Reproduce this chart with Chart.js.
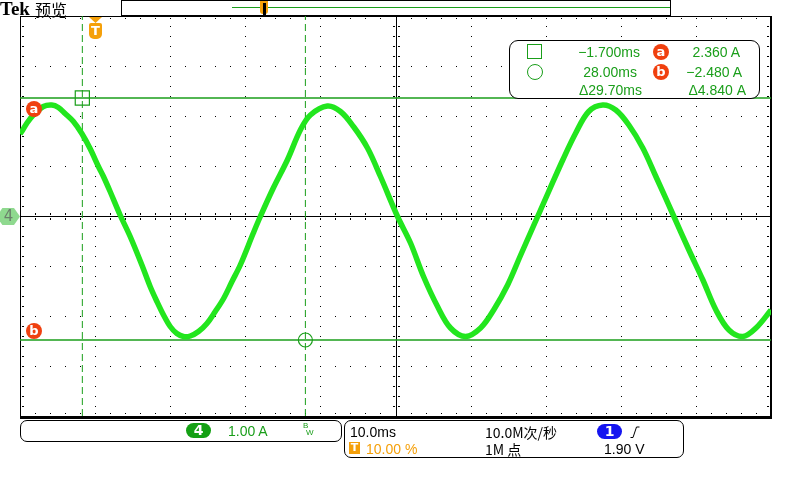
<!DOCTYPE html>
<html>
<head>
<meta charset="utf-8">
<script src="https://cdn.jsdelivr.net/npm/chart.js@4/dist/chart.umd.min.js"></script>
<style>
  html, body { margin: 0; padding: 0; background: #fff; }
  #wrap { position: relative; width: 800px; height: 480px; overflow: hidden;
          font-family: "Liberation Sans", Arial, sans-serif; }
  #scope { position: absolute; left: 0; top: 0; }
  .t { position: absolute; font-size: 14px; line-height: 16px; white-space: nowrap; }
  .g { color: #1a9e1a; }
  .box { position: absolute; border: 1px solid #000; border-radius: 7px; background: #fff; box-sizing: border-box; }
  .badge { position: absolute; width: 16px; height: 16px; border-radius: 50%; background: #f0400f;
           color: #fff; font: bold 13px/15px "DejaVu Sans", sans-serif; text-align: center; }
  .pill { position: absolute; border-radius: 8px; color: #fff; text-align: center;
          font: bold 14px/15px "DejaVu Sans", sans-serif; }
</style>
</head>
<body>
<div id="wrap">
  <canvas id="scope" width="800" height="480"></canvas>

  <!-- header -->
  <div class="t" style="left:0;top:0;font:bold 19px/18px 'Liberation Serif',serif;">Tek</div>
  <div class="t" style="left:35px;top:0;font:16px/18px 'Noto Sans CJK SC',sans-serif;">预览</div>
  <div style="position:absolute;left:121px;top:0;width:550px;height:16px;border:1px solid #000;box-sizing:border-box;background:#fff;"></div>
  <div style="position:absolute;left:232px;top:7px;width:438px;height:1px;background:#1a9e1a;"></div>
  <div style="position:absolute;left:260px;top:1px;width:8px;height:13px;background:#f5a00a;border-radius:0 0 3px 3px;"></div>
  <div style="position:absolute;left:263px;top:3px;width:3px;height:12px;background:#000;"></div>

  <!-- trigger marker T -->
  <div style="position:absolute;left:89px;top:17px;width:13px;height:6px;background:#f5a00a;clip-path:polygon(0 0,100% 0,50% 100%);"></div>
  <div style="position:absolute;left:89px;top:23px;width:13px;height:16px;background:#f5a00a;border-radius:2px 2px 5px 5px;color:#fff;font:bold 13px/16px 'DejaVu Sans',sans-serif;text-align:center;">T</div>

  <!-- channel 4 marker -->
  <div style="position:absolute;left:0;top:208px;width:20px;height:17px;background:#8fd98f;clip-path:polygon(0 20%,12% 0,70% 0,100% 50%,70% 100%,12% 100%,0 80%);color:#6b7f6b;font:15px/17px 'DejaVu Sans',sans-serif;text-align:center;padding-right:3px;box-sizing:border-box;">4</div>

  <!-- cursor badges on screen -->
  <div class="badge" style="left:26px;top:101px;">a</div>
  <div class="badge" style="left:26px;top:323px;">b</div>

  <!-- cursor readout -->
  <div class="box" style="left:509px;top:40px;width:251px;height:59px;border-radius:9px;"></div>
  <div style="position:absolute;left:527px;top:44px;width:13px;height:13px;border:1.5px solid #1a9e1a;"></div>
  <div style="position:absolute;left:527px;top:64px;width:14px;height:14px;border:1.5px solid #1a9e1a;border-radius:50%;"></div>
  <div class="t g" style="right:160px;top:44px;">−1.700ms</div>
  <div class="t g" style="right:163px;top:64px;">28.00ms</div>
  <div class="t g" style="right:158px;top:82px;">Δ29.70ms</div>
  <div class="badge" style="left:653px;top:44px;">a</div>
  <div class="badge" style="left:653px;top:64px;">b</div>
  <div class="t g" style="right:60px;top:44px;">2.360 A</div>
  <div class="t g" style="right:58px;top:64px;">−2.480 A</div>
  <div class="t g" style="right:54px;top:82px;">Δ4.840 A</div>

  <!-- bottom left: channel -->
  <div class="box" style="left:20px;top:420px;width:322px;height:22px;"></div>
  <div class="pill" style="left:186px;top:423px;width:25px;height:15px;background:#14a014;">4</div>
  <div class="t g" style="left:228px;top:423px;">1.00 A</div>
  <div class="t g" style="left:303px;top:422px;font-size:8px;line-height:8px;">B</div>
  <div class="t g" style="left:306px;top:429px;font-size:8px;line-height:8px;">W</div>

  <!-- bottom right: timebase / trigger -->
  <div class="box" style="left:344px;top:420px;width:340px;height:38px;"></div>
  <div class="t" style="left:350px;top:424px;">10.0ms</div>
  <div class="t" style="left:485px;top:424px;font-family:'Noto Sans CJK SC','Liberation Sans',sans-serif;">10.0M次/秒</div>
  <div class="pill" style="left:597px;top:424px;width:25px;height:15px;background:#1515f0;">1</div>
  <svg style="position:absolute;left:630px;top:426px;" width="10" height="12"><polyline points="0.5,11.5 3,11.5 6.5,1 9.5,1" fill="none" stroke="#000" stroke-width="1"/></svg>
  <div style="position:absolute;left:349px;top:442px;width:11px;height:12px;background:#f5a00a;color:#fff;font:bold 11px/12px 'DejaVu Sans',sans-serif;text-align:center;">T</div>
  <div class="t" style="left:366px;top:441px;color:#f5a00a;">10.00 %</div>
  <div class="t" style="left:485px;top:441px;font-family:'Noto Sans CJK SC','Liberation Sans',sans-serif;">1M 点</div>
  <div class="t" style="left:604px;top:441px;">1.90 V</div>
</div>

<script>
// screen: 10 ms/div, 1.00 A/div, trigger at 10% of record
const timeRange = [-10, 90];
const ampRange = [-4, 4];
const timeDivs = 10;
const ampDivs = 8;

// trace (ms, A)
const timeMs = [-10.0, -9.77, -9.11, -8.23, -6.89, -5.77, -4.89, -4.0, -2.89, -1.77,
  -0.67, 0.44, 1.11, 2.0, 3.33, 4.67, 6.23, 7.33, 8.23, 9.11,
  10.0, 10.89, 11.77, 12.67, 13.77, 14.89, 16.0, 17.11, 18.23, 19.33,
  21.07, 22.0, 23.73, 25.6, 27.33, 28.67, 30.93,
  32.67, 34.4, 36.27, 38.0, 40.27, 42.0, 43.73, 45.6, 47.33, 49.33,
  51.33, 53.07, 54.93, 56.67, 58.93, 60.4, 62.27, 64.0, 65.73, 67.6,
  69.33, 71.07, 72.93, 74.67, 77.07, 79.07, 80.93, 82.67, 84.4, 86.27,
  88.0, 90.0];
const currentA = [1.64, 1.69, 1.85, 2.02, 2.19, 2.22, 2.17, 2.05, 1.89, 1.65,
  1.35, 0.99, 0.79, 0.49, 0.02, -0.41, -0.98, -1.41, -1.71, -1.98,
  -2.21, -2.35, -2.41, -2.40, -2.31, -2.15, -1.91, -1.65, -1.31, -0.98,
  -0.34, -0.01, 0.56, 1.12, 1.72, 2.02, 2.20,
  2.09, 1.79, 1.36, 0.79, -0.01, -0.54, -1.21, -1.81, -2.24, -2.41,
  -2.24, -1.88, -1.38, -0.78, -0.01, 0.49, 1.12, 1.66, 2.09, 2.22,
  2.12, 1.82, 1.36, 0.79, -0.01, -0.68, -1.28, -1.88, -2.28, -2.41,
  -2.24, -1.88];

// cursors
const cursorTimes = [-1.7, 28.0];
const cursorAmps = [2.36, -2.48];

const cursorGreen = '#1a9e1a';

function hLine(v) {
  return {
    data: [{ x: timeRange[0], y: v }, { x: timeRange[1], y: v }],
    borderColor: cursorGreen, borderWidth: 1.5, pointRadius: 0
  };
}

function vLine(t) {
  return {
    data: [{ x: t, y: ampRange[0] }, { x: t, y: ampRange[1] }],
    borderColor: cursorGreen, borderWidth: 1, borderDash: [7, 4], pointRadius: 0
  };
}

// dotted graticule, centre cross with ticks, frame
const graticule = {
  id: 'graticule',
  beforeDatasetsDraw(chart) {
    const { ctx, chartArea: a, scales: { x, y } } = chart;
    const tStep = (timeRange[1] - timeRange[0]) / timeDivs;
    const aStep = (ampRange[1] - ampRange[0]) / ampDivs;
    const px = t => Math.round(x.getPixelForValue(t));
    const py = v => Math.round(y.getPixelForValue(v));
    const tMid = timeRange[0] + tStep * timeDivs / 2;
    ctx.save();
    ctx.fillStyle = '#000';

    // vertical dotted lines
    for (let i = 1; i < timeDivs; i++) {
      if (i === timeDivs / 2) continue;
      const X = px(timeRange[0] + i * tStep);
      for (let j = 1; j < ampDivs * 5; j++) ctx.fillRect(X, py(ampRange[0] + j * aStep / 5), 1, 1);
    }
    // horizontal dotted lines
    for (let j = 1; j < ampDivs; j++) {
      if (j === ampDivs / 2) continue;
      const Y = py(ampRange[0] + j * aStep);
      for (let i = 1; i < timeDivs * 5; i++) ctx.fillRect(px(timeRange[0] + i * tStep / 5), Y, 1, 1);
    }

    // centre cross
    const cx = px(tMid), cy = py(0);
    ctx.fillRect(a.left, cy, a.right - a.left, 1);
    ctx.fillRect(cx, a.top, 1, a.bottom - a.top);
    for (let i = 1; i < timeDivs * 5; i++) {
      const X = px(timeRange[0] + i * tStep / 5);
      ctx.fillRect(X, cy - 3, 1, 2);
      ctx.fillRect(X, cy + 2, 1, 2);
      ctx.fillRect(X, a.top + 2, 1, 1);
      ctx.fillRect(X, a.bottom - 3, 1, 1);
    }
    for (let j = 1; j < ampDivs * 5; j++) {
      const Y = py(ampRange[0] + j * aStep / 5);
      ctx.fillRect(cx - 3, Y, 2, 1);
      ctx.fillRect(cx + 2, Y, 2, 1);
      ctx.fillRect(a.left + 2, Y, 2, 1);
      ctx.fillRect(a.right - 4, Y, 2, 1);
    }

    // frame
    ctx.fillRect(a.left, a.top, a.right - a.left, 1);
    ctx.fillRect(a.left, a.top, 1, a.bottom - a.top);
    ctx.fillRect(a.right - 1, a.top, 2, a.bottom - a.top + 3);
    ctx.fillRect(a.left, a.bottom, a.right - a.left + 1, 3);
    ctx.restore();
  }
};

new Chart(document.getElementById('scope'), {
  type: 'line',
  data: {
    datasets: [
      {
        data: timeMs.map((t, i) => ({ x: t, y: currentA[i] })),
        borderColor: '#22e61e', borderWidth: 5.5, pointRadius: 0,
        tension: 0.35
      },
      {
        data: [{ x: cursorTimes[0], y: cursorAmps[0] }],
        showLine: false, pointStyle: 'rect', pointRadius: 10,
        borderColor: cursorGreen, backgroundColor: 'rgba(0,0,0,0)', pointBorderWidth: 1.2
      },
      {
        data: [{ x: cursorTimes[1], y: cursorAmps[1] }],
        showLine: false, pointStyle: 'circle', pointRadius: 7,
        borderColor: cursorGreen, backgroundColor: 'rgba(0,0,0,0)', pointBorderWidth: 1.2
      },
      hLine(cursorAmps[0]),
      hLine(cursorAmps[1]),
      vLine(cursorTimes[0]),
      vLine(cursorTimes[1])
    ]
  },
  options: {
    responsive: false,
    animation: false,
    layout: { padding: { left: 20, top: 16, right: 29, bottom: 64 } },
    scales: {
      x: { type: 'linear', min: timeRange[0], max: timeRange[1], display: false },
      y: { min: ampRange[0], max: ampRange[1], display: false }
    },
    plugins: { legend: { display: false }, tooltip: { enabled: false } }
  },
  plugins: [graticule]
});
</script>
</body>
</html>
